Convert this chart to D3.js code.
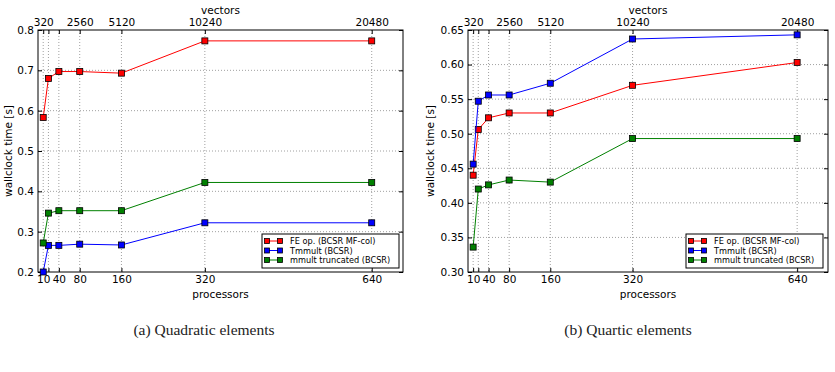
<!DOCTYPE html>
<html>
<head>
<meta charset="utf-8">
<script src="https://cdnjs.cloudflare.com/ajax/libs/d3/7.8.5/d3.min.js"></script>
<style>
  body { margin: 0; background: #fff; }
</style>
</head>
<body>
<svg id="chart" width="835" height="372"></svg>
<script>
// data
var processors = [10, 20, 40, 80, 160, 320, 640];
var vectorsPerProc = 32;
var bottomLabels = [10, 40, 80, 160, 320, 640];
var topLabels = [10, 80, 160, 320, 640];
var seriesNames = ["FE op. (BCSR MF-col)", "Tmmult (BCSR)", "mmult truncated (BCSR)"];
var seriesColors = ["#ff0000", "#0000ff", "#008000"];

var quadFE = [0.583, 0.680, 0.697, 0.697, 0.693, 0.773, 0.773];
var quadTmmult = [0.200, 0.266, 0.266, 0.269, 0.267, 0.322, 0.322];
var quadMmult = [0.272, 0.346, 0.352, 0.352, 0.352, 0.422, 0.422];
var quadTicks = [0.2, 0.3, 0.4, 0.5, 0.6, 0.7, 0.8];

var quartFE = [0.440, 0.506, 0.523, 0.530, 0.530, 0.570, 0.603];
var quartTmmult = [0.456, 0.547, 0.556, 0.556, 0.573, 0.637, 0.643];
var quartMmult = [0.336, 0.420, 0.426, 0.433, 0.430, 0.493, 0.493];
var quartTicks = [0.30, 0.35, 0.40, 0.45, 0.50, 0.55, 0.60, 0.65];

var svg = d3.select("#chart");

function panel(opt) {
  var left = opt.left, right = opt.right, top = 30, bottom = 272;
  var x = d3.scaleLinear().domain([0, 700]).range([left, right]);
  var y = d3.scaleLinear().domain(opt.yDomain).range([bottom, top]);
  var g = svg.append("g").attr("font-family", "DejaVu Sans, sans-serif");

  // grid
  g.selectAll("line.vg").data(processors).enter().append("line")
    .attr("x1", function(d){ return x(d) }).attr("x2", function(d){ return x(d) })
    .attr("y1", top).attr("y2", bottom)
    .attr("stroke", "#888").attr("stroke-width", 0.8).attr("stroke-dasharray", "1,2");
  g.selectAll("line.hg").data(opt.yTicks.slice(1, -1)).enter().append("line")
    .attr("x1", left).attr("x2", right)
    .attr("y1", function(d){ return y(d) }).attr("y2", function(d){ return y(d) })
    .attr("stroke", "#888").attr("stroke-width", 0.8).attr("stroke-dasharray", "1,2");

  // axes
  var yAxis = d3.axisLeft(y).tickValues(opt.yTicks).tickFormat(d3.format(opt.yFormat))
    .tickSizeInner(-4).tickSizeOuter(0).tickPadding(4);
  var ya = g.append("g").attr("transform", "translate(" + left + ",0)").call(yAxis);
  var yb = g.append("g").attr("transform", "translate(" + right + ",0)")
    .call(d3.axisRight(y).tickValues(opt.yTicks).tickSize(-4).tickFormat(""));
  var xb = g.append("g").attr("transform", "translate(0," + bottom + ")")
    .call(d3.axisBottom(x).tickValues(processors).tickSizeInner(-4).tickSizeOuter(0).tickPadding(4)
      .tickFormat(function(d){ return bottomLabels.indexOf(d) >= 0 ? d : "" }));
  var xt = g.append("g").attr("transform", "translate(0," + top + ")")
    .call(d3.axisTop(x).tickValues(processors).tickSizeInner(-4).tickSizeOuter(0).tickPadding(4)
      .tickFormat(function(d){ return topLabels.indexOf(d) >= 0 ? d * vectorsPerProc : "" }));
  [ya, yb, xb, xt].forEach(function(a){
    a.selectAll("text").attr("font-size", 10.5).attr("fill", "#000").attr("font-family", "DejaVu Sans");
    a.selectAll("line").attr("stroke", "#000");
    a.select(".domain").remove();
  });
  g.append("rect").attr("x", left).attr("y", top).attr("width", right - left).attr("height", bottom - top)
    .attr("fill", "none").attr("stroke", "#000").attr("stroke-width", 1);

  // lines + markers
  opt.series.forEach(function(vals, k) {
    var pts = processors.map(function(p, i){ return [p, vals[i]] });
    var line = d3.line().x(function(d){ return x(d[0]) }).y(function(d){ return y(d[1]) });
    g.append("path").attr("d", line(pts)).attr("fill", "none")
      .attr("stroke", seriesColors[k]).attr("stroke-width", 1);
    g.selectAll("rect.m" + k).data(pts).enter().append("rect")
      .attr("x", function(d){ return x(d[0]) - 3 }).attr("y", function(d){ return y(d[1]) - 3 })
      .attr("width", 6).attr("height", 6)
      .attr("fill", seriesColors[k]).attr("stroke", "#000").attr("stroke-width", 0.8);
  });

  // labels
  g.append("text").attr("x", (left + right) / 2).attr("y", 14).attr("text-anchor", "middle")
    .attr("font-size", 10.5).text("vectors");
  g.append("text").attr("x", (left + right) / 2).attr("y", 298).attr("text-anchor", "middle")
    .attr("font-size", 10.5).text("processors");
  g.append("text").attr("transform", "translate(" + opt.yLabelX + "," + ((top + bottom) / 2) + ") rotate(-90)")
    .attr("text-anchor", "middle").attr("font-size", 10.5).text("wallclock time [s]");

  // legend
  var lx = opt.legendX, ly = 234;
  g.append("rect").attr("x", lx).attr("y", ly).attr("width", opt.legendW).attr("height", 34)
    .attr("fill", "#fff").attr("stroke", "#000").attr("stroke-width", 1);
  seriesNames.forEach(function(name, k) {
    var yy = ly + 7 + k * 9.5;
    g.append("line").attr("x1", lx + 5).attr("x2", lx + 18).attr("y1", yy).attr("y2", yy)
      .attr("stroke", seriesColors[k]).attr("stroke-width", 1);
    [lx + 5, lx + 18].forEach(function(mx) {
      g.append("rect").attr("x", mx - 2.5).attr("y", yy - 2.5).attr("width", 5).attr("height", 5)
        .attr("fill", seriesColors[k]).attr("stroke", "#000").attr("stroke-width", 0.8);
    });
    g.append("text").attr("x", lx + 28).attr("y", yy + 3).attr("font-size", 8.2).text(name);
  });

  // caption
  svg.append("text").attr("x", opt.captionX).attr("y", 335).attr("text-anchor", "middle")
    .style("font-family", "'Liberation Serif', serif").style("font-size", "15.5px").attr("fill", "#222")
    .text(opt.caption);
}

panel({left: 38, right: 403, yDomain: [0.2, 0.8], yTicks: quadTicks, yFormat: ".1f",
  series: [quadFE, quadTmmult, quadMmult], legendX: 262, legendW: 137, yLabelX: 12,
  caption: "(a) Quadratic elements", captionX: 204});
panel({left: 468, right: 828, yDomain: [0.30, 0.65], yTicks: quartTicks, yFormat: ".2f",
  series: [quartFE, quartTmmult, quartMmult], legendX: 686, legendW: 137, yLabelX: 434,
  caption: "(b) Quartic elements", captionX: 628});
</script>
</body>
</html>
